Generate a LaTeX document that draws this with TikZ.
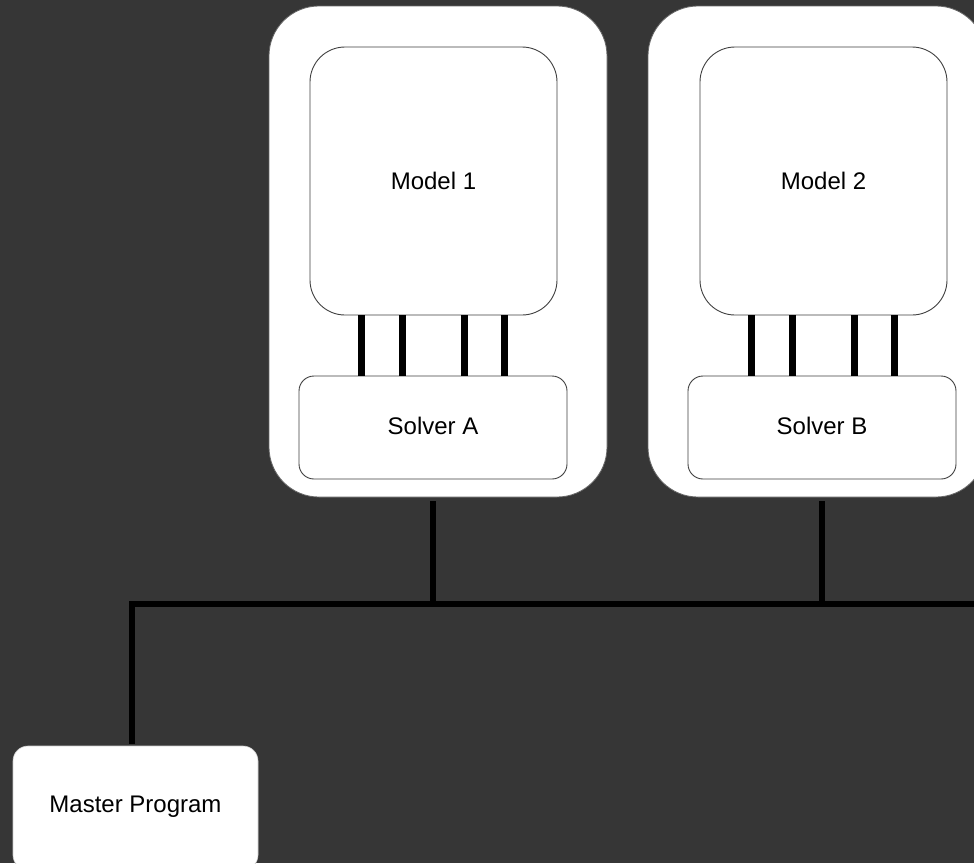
\documentclass[tikz,border=0pt]{standalone}
\usepackage{fontspec}
\setmainfont{Liberation Sans}
\begin{document}
\begin{tikzpicture}[x=1pt,y=-1pt,
  outerbox/.style={fill=white,draw=black!60,line width=0.8pt,rounded corners=50pt,minimum width=338pt,minimum height=491pt,inner sep=0pt},
  modelbox/.style={fill=white,draw=black!75,line width=0.9pt,rounded corners=35pt,minimum width=247pt,minimum height=268pt,inner sep=0pt,font=\fontsize{24}{28}\selectfont},
  solverbox/.style={fill=white,draw=black!75,line width=0.9pt,rounded corners=15pt,minimum width=268pt,minimum height=103pt,inner sep=0pt,font=\fontsize{24}{28}\selectfont},
  masterbox/.style={fill=white,draw=black!20,line width=0.6pt,rounded corners=15pt,minimum width=245pt,minimum height=124pt,inner sep=0pt,font=\fontsize{24}{28}\selectfont},
  bar/.style={line width=7pt,black},
  conn/.style={line width=6.5pt,black,line join=miter}]
\useasboundingbox (0,0) rectangle (974,863);
\clip (0,0) rectangle (974,863);
\fill[black!79] (0,0) rectangle (974,863);
% outer containers
\node[outerbox] (outer1) at (438,251.5) {};
\node[outerbox] (outer2) at (817,251.5) {};
% models
\node[modelbox] (model1) at (433.5,181) {\raisebox{-2pt}{Model 1}};
\node[modelbox] (model2) at (823.5,181) {\raisebox{-2pt}{Model 2}};
% solvers
\node[solverbox] (solverA) at (433,427.5) {\raisebox{3pt}{Solver A}};
\node[solverbox] (solverB) at (822,427.5) {\raisebox{3pt}{Solver B}};
% master
\node[masterbox] (master) at (135.5,808) {\raisebox{8pt}{Master Program}};
% bars between model and solver
\foreach \dx in {-72,-31,31,71}{
  \draw[bar] ([xshift=\dx pt]model1.south) -- ([xshift=\dx pt]model1.south |- solverA.north);
  \draw[bar] ([xshift=\dx pt]model2.south) -- ([xshift=\dx pt]model2.south |- solverB.north);
}
% bus
\coordinate (busR) at (990,604);
\draw[conn] ([xshift=-3.5pt,yshift=2pt]master.north) |- (busR);
\draw[conn] (solverA.south |- outer1.south) ++(0,4) -- (solverA.south |- busR);
\draw[conn] (solverB.south |- outer2.south) ++(0,4) -- (solverB.south |- busR);
\end{tikzpicture}
\end{document}
